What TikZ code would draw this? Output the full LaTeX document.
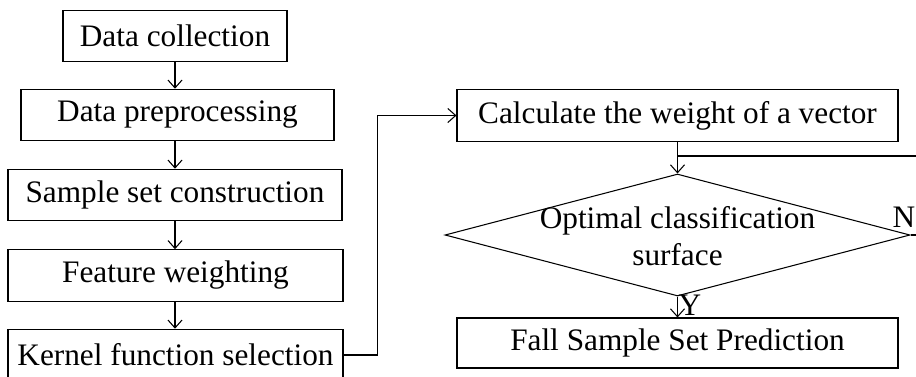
\documentclass[tikz,border=0pt]{standalone}
\usepackage{fontspec}
\setmainfont{Liberation Serif}
\usetikzlibrary{positioning,shapes.geometric,arrows.meta}

\begin{document}
\begin{tikzpicture}[
		font=\fontsize{17.8}{21.4}\selectfont,
		line width=0.6pt,
		>={Straight Barb[length=4.5pt,width=8pt]},
		stepbox/.style={draw,rectangle,inner sep=0pt,minimum height=1.03cm},
		testbox/.style={draw,diamond,inner sep=0pt,minimum width=9.3cm,minimum height=2.44cm}
	]
		\clip (0,0) rectangle (18.32,7.52);

		% left column
		\node[stepbox,minimum width=4.48cm] (collect) at (3.5,6.8) {Data collection};
		\node[stepbox,minimum width=6.26cm] (prep) at (3.55,5.22) {Data preprocessing};
		\node[stepbox,minimum width=6.68cm] (sample) at (3.5,3.62) {Sample set construction};
		\node[stepbox,minimum width=6.7cm] (weight) at (3.51,2.01) {Feature weighting};
		\node[stepbox,minimum width=6.7cm] (kernel) at (3.51,0.42) {Kernel function selection};

		% right column
		\node[stepbox,minimum width=8.82cm] (calc) at (13.55,5.21) {Calculate the weight of a vector};
		\node[testbox] (optim) at (13.55,2.82) {};
		\node[align=center] (optimtext) at (13.55,2.8) {Optimal classification\\surface};
		\node[stepbox,minimum width=8.82cm,minimum height=1.0cm] (fall) at (13.55,0.66) {Fall Sample Set Prediction};
		\coordinate (back) at (13.55,4.4);
		\node (yes) at (13.8,1.42) {Y};
		\node[inner sep=1pt] (no) at (18.08,3.17) {N};

		\draw[->] (collect.south) -- (collect.south |- prep.north);
		\draw[->] (collect.south |- prep.south) -- (collect.south |- sample.north);
		\draw[->] (sample.south) -- (sample.south |- weight.north);
		\draw[->] (sample.south |- weight.south) -- (sample.south |- kernel.north);
		\draw[->] (kernel.east) -- ++(0.68,0) |- (calc.west);
		\draw[->] (calc.south) -- (optim.north);
		\draw (optim.east) -- ++(0.4,0) |- (back);
		\draw[->] (optim.south) -- (fall.north);
	\end{tikzpicture}
\end{document}
